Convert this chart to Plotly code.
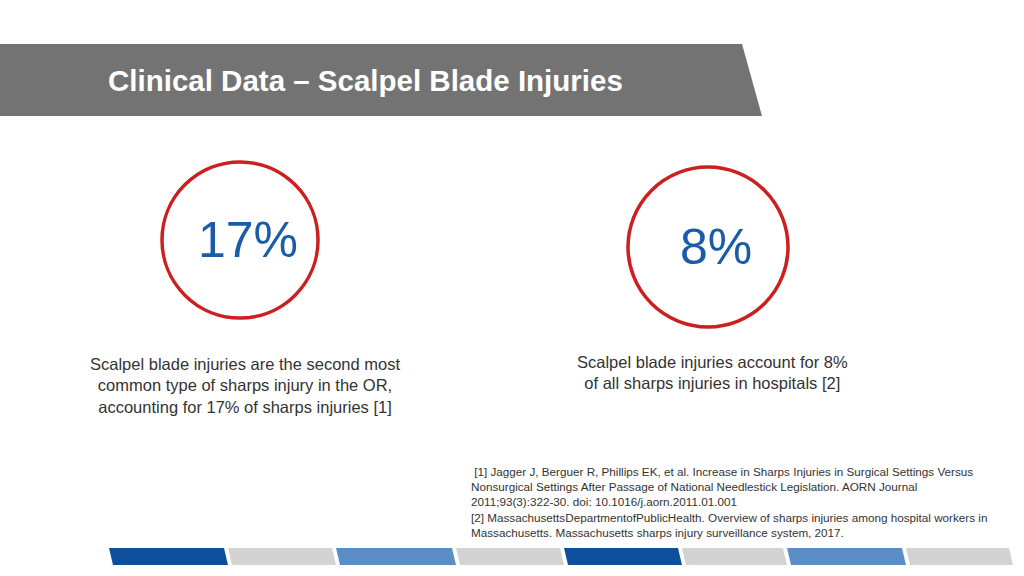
import plotly.graph_objects as go

# Slide content
title = "Clinical Data – Scalpel Blade Injuries"
stat_values = ["17%", "8%"]
stat_centers_x = [240, 708]
stat_centers_y = [240, 247]
stat_radii = [78, 80]
stat_captions = [
    "Scalpel blade injuries are the second most<br>common type of sharps injury in the OR,<br>accounting for 17% of sharps injuries [1]",
    "Scalpel blade injuries account for 8%<br>of all sharps injuries in hospitals [2]",
]
footnote = (" [1] Jagger J, Berguer R, Phillips EK, et al. Increase in Sharps Injuries in Surgical Settings Versus<br>"
            "Nonsurgical Settings After Passage of National Needlestick Legislation. AORN Journal<br>"
            "2011;93(3):322-30. doi: 10.1016/j.aorn.2011.01.001<br>"
            "[2] MassachusettsDepartmentofPublicHealth. Overview of sharps injuries among hospital workers in<br>"
            "Massachusetts. Massachusetts sharps injury surveillance system, 2017.")
stripe_edges = [109, 228, 336, 456, 564, 682, 787, 906, 1013]
stripe_colors = ["#0d4f9b", "#d3d3d3", "#5b8ec4", "#d3d3d3", "#0d4f9b", "#d3d3d3", "#5b8ec4", "#d3d3d3"]

fig = go.Figure()
shapes = []

# header band
shapes.append(dict(type="path", path="M0,44 L742,44 L762,116 L0,116 Z",
                   fillcolor="#737373", line_width=0, layer="below"))

# stat circles
for cx, cy, r in zip(stat_centers_x, stat_centers_y, stat_radii):
    shapes.append(dict(type="circle", x0=cx - r, x1=cx + r, y0=cy - r, y1=cy + r,
                       line=dict(color="#cc1f1f", width=3.5)))

# bottom stripes
for i, c in enumerate(stripe_colors):
    a, b = stripe_edges[i], stripe_edges[i + 1]
    shapes.append(dict(type="path", path=f"M{a},548 L{b - 4},548 L{b},565 L{a + 4},565 Z",
                       fillcolor=c, line_width=0))

annotations = [dict(x=106, y=80, text=f"<b>{title}</b>", showarrow=False, xanchor="left",
                    font=dict(family="Liberation Sans, Arial", size=29.5, color="white"))]
for cx, cy, v in zip(stat_centers_x, stat_centers_y, stat_values):
    annotations.append(dict(x=cx + 8, y=cy, text=v, showarrow=False,
                            font=dict(family="Liberation Sans, Arial", size=50, color="#1a5ca8")))
annotations.append(dict(x=245, y=385, text=stat_captions[0], showarrow=False,
                        font=dict(family="Liberation Sans", size=16.5, color="#333333")))
annotations.append(dict(x=712, y=372, text=stat_captions[1], showarrow=False,
                        font=dict(family="Liberation Sans", size=16.5, color="#333333")))
annotations.append(dict(x=469, y=502, text=footnote, showarrow=False, xanchor="left", align="left",
                        font=dict(family="Liberation Sans, Arial", size=11.7, color="#333333")))

fig.update_layout(
    width=1024, height=576, margin=dict(l=0, r=0, t=0, b=0),
    paper_bgcolor="white", plot_bgcolor="white",
    xaxis=dict(range=[0, 1024], visible=False, fixedrange=True),
    yaxis=dict(range=[576, 0], visible=False, fixedrange=True),
    shapes=shapes, annotations=annotations, showlegend=False,
)
fig.write_html("out.html", config={"displayModeBar": False},
               post_script="document.body.style.margin='0';document.body.style.overflow='hidden';")
